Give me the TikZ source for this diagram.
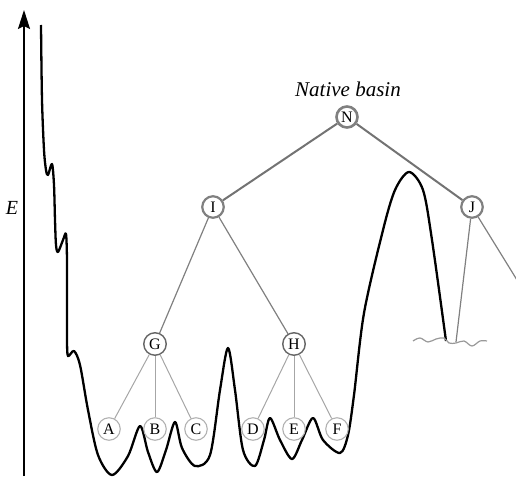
\documentclass[tikz,border=0pt]{standalone}
\usepackage{fontspec}
\setmainfont{Liberation Serif}
\usetikzlibrary{arrows.meta}
\begin{document}
\begin{tikzpicture}[x=1pt,y=-1pt,
  tnode/.style={circle, fill=white, inner sep=0pt, font=\fontsize{16}{16}\selectfont},
  rootnode/.style={tnode, draw=black!50, line width=2.6pt, minimum size=21pt},
  midnode/.style={tnode, draw=black!50, line width=2.2pt, minimum size=21.5pt},
  lownode/.style={tnode, draw=black!60, line width=1.4pt, minimum size=22.5pt},
  leafnode/.style={tnode, draw=black!30, line width=1.1pt, minimum size=22.5pt},
  topedge/.style={draw=black!55, line width=2pt},
  midedge/.style={draw=black!50, line width=1.2pt},
  leafedge/.style={draw=black!35, line width=1pt},
  landscape/.style={draw=black, line width=2.3pt, line join=round},
]
\useasboundingbox (0,0) rectangle (516,476);

% axis
\coordinate (ax0) at (24,476);
\coordinate (ax1) at (24,10);
\draw[line width=2pt, -{Stealth[length=19pt,width=12pt,inset=3pt]}] (ax0) -- (ax1);
\node[font=\fontsize{20}{20}\itshape] (Elab) at (12,208) {E};

% energy landscape
\draw[landscape] plot[smooth, tension=0.5] coordinates {
 (41,25) (42,100) (44,150) (46,170) (48,175) (52,164) (54,185) (55,220) (56,245) (58,252)
 (63,240) (66,234) (67,260) (67,300) (67,340) (68,356) (74,351)
 (80,365) (88,410) (98,455) (112,475) (128,456) (140,426) (148,452) (157,472)
 (166,450) (175,422) (182,448) (195,466) (210,455) (220,390) (228,348) (235,390)
 (243,450) (255,466) (264,440) (270,418) (280,440) (292,459) (302,440) (313,418)
 (323,440) (340,453) (348,435) (354,395) (364,313) (383,230) (395,190) (409,172)
 (423,190) (432,240) (446,341)};

% basin ground
\draw[draw=black!40, line width=1.2pt] plot[smooth, tension=0.6] coordinates {
 (413,341) (420,338) (428,342) (436,339) (444,338) (449,343) (456,343) (464,341)
 (472,346) (480,341) (487,341)};

% nodes
\node[rootnode] (N) at (347,117) {N};
\node[font=\fontsize{21}{21}\itshape] (lab) at (348,89) {Native basin};
\node[midnode] (I) at (213,207) {I};
\node[midnode] (J) at (472,207) {J};
\node[lownode] (G) at (155,344) {G};
\node[lownode] (H) at (294,344) {H};
\node[leafnode] (A) at (109,429) {A};
\node[leafnode] (B) at (155,429) {B};
\node[leafnode] (C) at (196,429) {C};
\node[leafnode] (D) at (253,429) {D};
\node[leafnode] (E) at (294,429) {E};
\node[leafnode] (F) at (337,429) {F};
\coordinate (jl) at (456,342);
\coordinate (jr) at (517,280);

% edges
\draw[topedge] (N) -- (I);
\draw[topedge] (N) -- (J);
\draw[midedge] (I) -- (G);
\draw[midedge] (I) -- (H);
\draw[midedge] (J) -- (jl);
\draw[midedge] (J) -- (jr);
\draw[leafedge] (G) -- (A);
\draw[leafedge] (G) -- (B);
\draw[leafedge] (G) -- (C);
\draw[leafedge] (H) -- (D);
\draw[leafedge] (H) -- (E);
\draw[leafedge] (H) -- (F);
\end{tikzpicture}
\end{document}
